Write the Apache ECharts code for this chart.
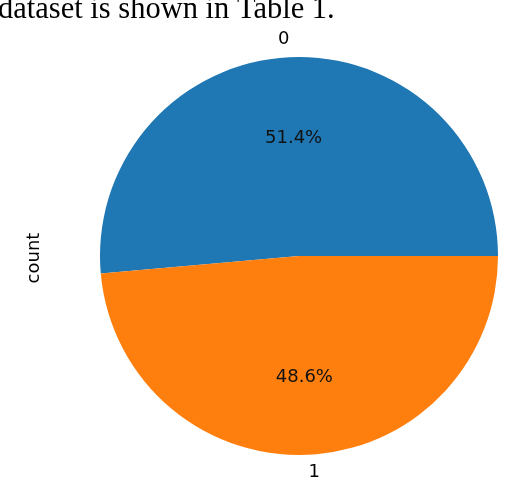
<!DOCTYPE html>
<html>
<head>
<meta charset="utf-8">
<script src="https://cdn.jsdelivr.net/npm/echarts@6/dist/echarts.min.js"></script>
<style>html,body{margin:0;padding:0;background:#fff}#c{width:508px;height:488px}</style>
</head>
<body>
<div id="c"></div>
<script>
var categories = ['0', '1'];
var counts = [514, 486];
var colors = ['#1f77b4', '#ff7f0e'];
var yLabel = 'count';
var captionText = 'dataset is shown in Table 1.';

var chart = echarts.init(document.getElementById('c'), null, {renderer: 'canvas'});
var R = 199;
var pctOffsets = [[0, 5], [0, -1]];
var data = categories.map(function (c, i) {
  return {name: c, value: counts[i], itemStyle: {color: colors[i]}};
});
var pctData = categories.map(function (c, i) {
  return {name: c, value: counts[i], label: {offset: pctOffsets[i]}};
});
chart.setOption({
  animation: false,
  graphic: [
    {type: 'text', left: -2, top: -6, style: {text: captionText, font: '30.5px "Liberation Serif"', fill: '#000'}},
    {type: 'text', x: 34, y: 258, rotation: Math.PI / 2,
     style: {text: yLabel, font: '18px "DejaVu Sans"', fill: '#000', align: 'center', verticalAlign: 'middle'}}
  ],
  series: [
    {
      type: 'pie',
      center: [299, 256],
      radius: [0, R],
      startAngle: 0,
      clockwise: false,
      avoidLabelOverlap: false,
      silent: true,
      data: data,
      itemStyle: {borderWidth: 0},
      label: {
        show: true, position: 'outside', formatter: '{b}',
        fontFamily: 'DejaVu Sans', fontSize: 18, color: '#000',
        distanceToLabelLine: 0
      },
      labelLine: {show: false, length: 18, length2: 0}
    },
    {
      type: 'pie',
      center: [299, 256],
      radius: [0.2 * R, R],
      startAngle: 0,
      clockwise: false,
      avoidLabelOverlap: false,
      silent: true,
      data: pctData,
      itemStyle: {color: 'rgba(0,0,0,0)', borderWidth: 0},
      label: {
        show: true, position: 'inside',
        formatter: function (p) { return p.percent.toFixed(1) + '%'; },
        fontFamily: 'DejaVu Sans', fontSize: 18, color: '#111'
      },
      labelLine: {show: false}
    }
  ]
});
</script>
</body>
</html>
